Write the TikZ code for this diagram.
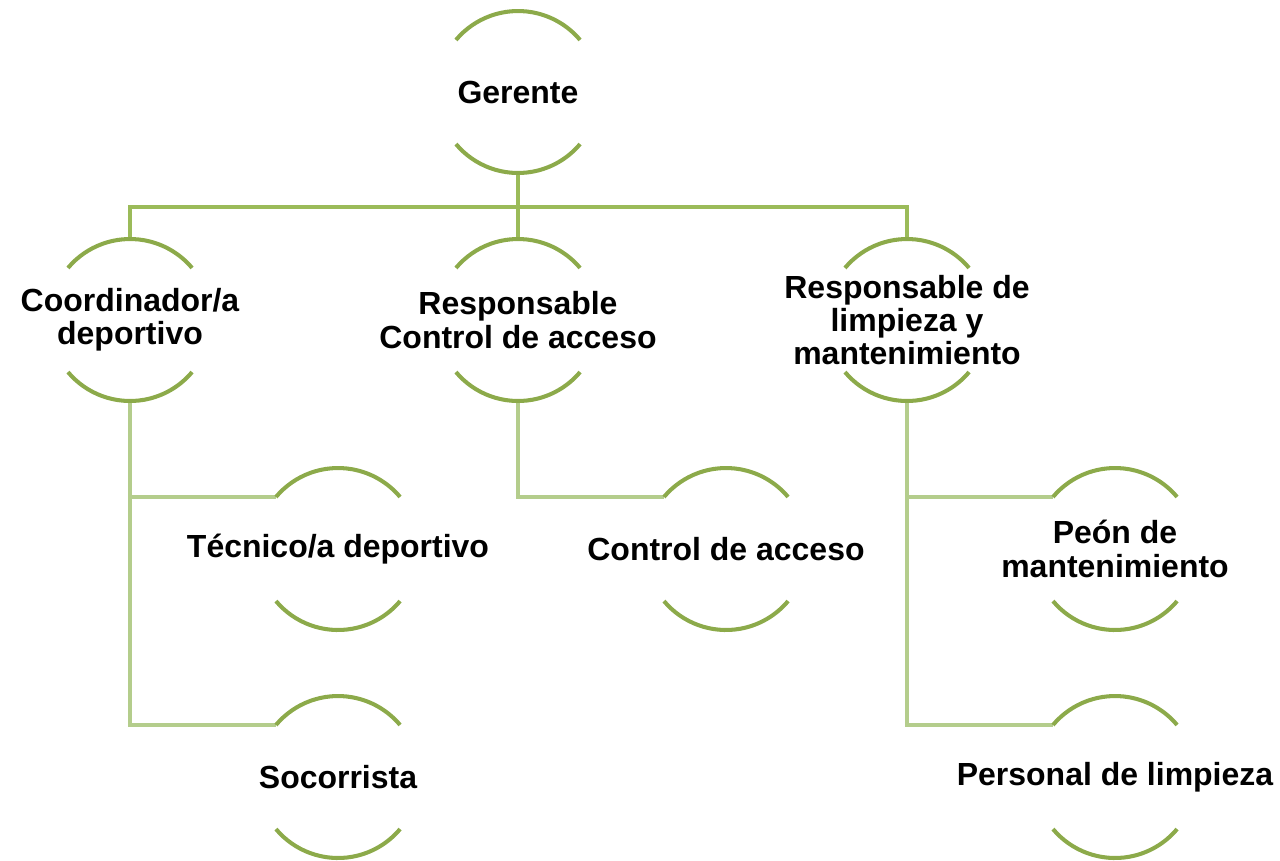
\documentclass[tikz,border=0pt]{standalone}
\usepackage{fontspec}
\setmainfont{Liberation Sans}
\usetikzlibrary{positioning}
\definecolor{arcgreen}{RGB}{140,170,74}
\definecolor{topgreen}{RGB}{155,187,89}
\definecolor{subgreen}{RGB}{180,205,140}
\tikzset{
	org/.style={circle,minimum size=3.24cm,inner sep=0pt,outer sep=0pt},
	txt/.style={align=center,font=\fontsize{18.2}{19}\selectfont\bfseries,inner sep=0pt},
	arcline/.style={draw=arcgreen,line width=2.3pt},
	topline/.style={draw=topgreen,line width=2.1pt},
	subline/.style={draw=subgreen,line width=2.1pt}
}

\begin{document}
\begin{tikzpicture}[x=0.02cm,y=0.02cm]
			\useasboundingbox (0,0) rectangle (1280,-860);
			\node[org,label={[txt]center:Gerente}] (ger) at (518,-92) {};
			\node[org,label={[txt]center:Coordinador/a\\deportivo}] (coord) at (130,-320) {};
			\node[org,label={[txt]center:Responsable\\Control de acceso}] (resp) at (518,-320) {};
			\node[org,label={[txt]center:Responsable de\\limpieza y\\mantenimiento}] (limp) at (907,-320) {};
			\node[org,label={[txt]center:Técnico/a deportivo}] (tec) at (338,-549) {};
			\node[org,label={[txt]center:Socorrista}] (socor) at (338,-777) {};
			\node[org,label={[txt]center:Control de acceso}] (ctrl) at (726,-549) {};
			\node[org,label={[txt]center:Peón de\\mantenimiento}] (peon) at (1115,-549) {};
			\node[org,label={[txt]center:Personal de limpieza}] (pers) at (1115,-777) {};
			\coordinate (bar) at (518,-207);
			
			\draw[topline] (ger.south) -- (resp.north);
			\draw[topline] (coord.north) |- (bar) -| (limp.north);
			\draw[subline] (coord.south) |- (tec.140);
			\draw[subline] (coord.south) |- (socor.140);
			\draw[subline] (resp.south) |- (ctrl.140);
			\draw[subline] (limp.south) |- (peon.140);
			\draw[subline] (limp.south) |- (pers.140);
			
			\foreach \n in {ger,coord,resp,limp,tec,socor,ctrl,peon,pers}{
				\draw[arcline] (\n.140) arc[start angle=140,end angle=40,radius=81];
				\draw[arcline] (\n.220) arc[start angle=220,end angle=320,radius=81];
			}
		\end{tikzpicture}
\end{document}
